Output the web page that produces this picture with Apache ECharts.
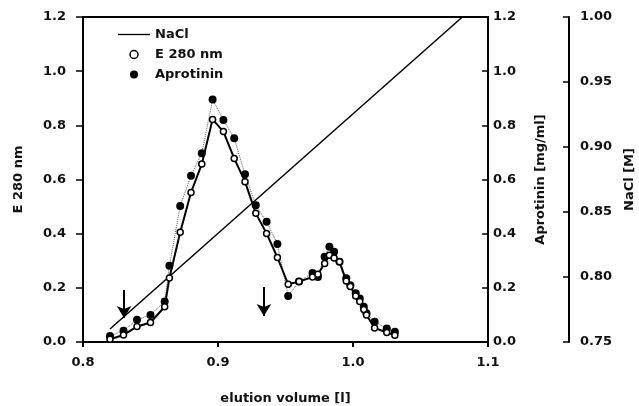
<!DOCTYPE html>
<html>
<head>
<meta charset="utf-8">
<script src="https://cdn.jsdelivr.net/npm/echarts@6/dist/echarts.min.js"></script>
<style>html,body{margin:0;padding:0;background:#fff}#c{width:639px;height:406px}</style>
</head>
<body>
<div id="c"></div>
<script>
// elution volume [l] of each fraction
const volumes = [0.820,0.830,0.840,0.850,0.8605,0.864,0.872,0.880,0.888,0.896,0.904,0.912,0.920,0.928,0.936,0.944,0.952,0.960,0.970,0.974,0.979,0.9825,0.986,0.990,0.995,0.998,1.002,1.005,1.008,1.010,1.016,1.025,1.031];
// E 280 nm (open circles)
const e280 = [0.010,0.026,0.057,0.072,0.130,0.236,0.405,0.552,0.657,0.822,0.777,0.678,0.592,0.475,0.401,0.312,0.213,0.223,0.240,0.250,0.290,0.320,0.310,0.296,0.225,0.205,0.170,0.150,0.120,0.100,0.052,0.035,0.025];
// Aprotinin [mg/ml] (filled circles)
const aprotinin = [0.022,0.042,0.082,0.100,0.150,0.282,0.502,0.614,0.697,0.895,0.820,0.752,0.619,0.505,0.444,0.362,0.170,0.223,0.255,0.240,0.315,0.352,0.333,0.296,0.235,0.210,0.180,0.161,0.130,0.106,0.075,0.050,0.038];
// NaCl gradient [M]
const naclVolumes = [0.820, 1.081];
const naclValues = [0.760, 1.000];
// arrows (volume, top value, tip value) in E 280 units
const arrowVolumes = [0.8304, 0.934];
const arrowTop = [0.192, 0.203];
const arrowTip = [0.089, 0.096];

const xTicks = ['0.8','0.9','1.0','1.1'];

const FONT = 'DejaVu Sans';
const txt = {fontFamily: FONT, fontSize: 13, fontWeight: 'bold', color: '#111'};

const chart = echarts.init(document.getElementById('c'), null, {renderer: 'canvas'});

const zip = (a, b) => a.map((v, i) => [v, b[i]]);

chart.setOption({
  animation: false,
  backgroundColor: '#fff',
  grid: {left: 83, right: 151, top: 17, bottom: 64, outerBoundsMode: 'none', containLabel: false,
    show: true, borderColor: '#000', borderWidth: 2, backgroundColor: 'transparent'},
  legend: {
    orient: 'vertical', left: 113, top: 23, itemGap: 7, itemWidth: 32, itemHeight: 8,
    textStyle: txt,
    data: [
      {name: 'NaCl', icon: 'path://M0,0H36V1.5H0Z', itemStyle: {color: '#000', borderWidth: 0}},
      {name: 'E 280 nm', icon: 'circle', itemStyle: {color: '#fff', borderColor: '#000', borderWidth: 1.5}},
      {name: 'Aprotinin', icon: 'circle', itemStyle: {color: '#000', borderColor: '#000', borderWidth: 0}}
    ]
  },
  xAxis: {
    type: 'value', min: 0.8, max: 1.1, interval: 0.1,
    name: 'elution volume [l]', nameLocation: 'middle', nameGap: 50, nameTextStyle: txt,
    axisLine: {lineStyle: {color: '#000', width: 2}},
    axisTick: {show: true, length: 5, lineStyle: {color: '#000', width: 2}},
    axisLabel: Object.assign({}, txt, {margin: 14, formatter: (v) => xTicks[Math.round((v - 0.8) / 0.1)]}),
    splitLine: {show: false}
  },
  yAxis: [
    {
      type: 'value', position: 'left', min: 0, max: 1.2, interval: 0.2,
      name: 'E 280 nm', nameLocation: 'middle', nameGap: 58, nameTextStyle: txt,
      axisLine: {show: true, lineStyle: {color: '#000', width: 2}},
      axisTick: {show: true, length: 7, lineStyle: {color: '#000', width: 1.5}},
      axisLabel: Object.assign({}, txt, {margin: 17, formatter: (v) => v.toFixed(1)}),
      splitLine: {show: false}
    },
    {
      type: 'value', position: 'right', min: 0, max: 1.2, interval: 0.2,
      name: 'Aprotinin [mg/ml]', nameLocation: 'middle', nameGap: 46, nameTextStyle: txt,
      axisLine: {show: true, lineStyle: {color: '#000', width: 2}},
      axisTick: {show: true, inside: true, length: 6, lineStyle: {color: '#000', width: 1.5}},
      axisLabel: Object.assign({}, txt, {margin: 5, formatter: (v) => v.toFixed(1)}),
      splitLine: {show: false}
    },
    {
      type: 'value', position: 'right', offset: 81, min: 0.75, max: 1.0, interval: 0.05,
      name: 'NaCl [M]', nameLocation: 'middle', nameGap: 54, nameTextStyle: txt,
      axisLine: {show: true, lineStyle: {color: '#000', width: 2}},
      axisTick: {show: true, inside: true, length: 6, lineStyle: {color: '#000', width: 1.5}},
      axisLabel: Object.assign({}, txt, {margin: 11, formatter: (v) => v.toFixed(2)}),
      splitLine: {show: false}
    }
  ],
  series: [
    {
      name: 'NaCl', type: 'line', yAxisIndex: 2, symbol: 'none',
      data: zip(naclVolumes, naclValues),
      lineStyle: {color: '#000', width: 1.5}, itemStyle: {color: '#000'}, z: 2
    },
    {
      name: 'Aprotinin', type: 'line', yAxisIndex: 1, symbol: 'circle', symbolSize: 8,
      data: zip(volumes, aprotinin),
      lineStyle: {color: '#555', width: 1, type: 'dotted'},
      itemStyle: {color: '#000', borderWidth: 0}, z: 3
    },
    {
      name: 'E 280 nm', type: 'line', yAxisIndex: 0, symbol: 'circle', symbolSize: 6,
      data: zip(volumes, e280),
      lineStyle: {color: '#000', width: 2},
      itemStyle: {color: '#fff', borderColor: '#000', borderWidth: 1.5}, z: 4,
      markLine: {
        silent: true, symbol: ['none', 'arrow'], symbolSize: [11, 12],
        label: {show: false},
        lineStyle: {color: '#000', width: 2, type: 'solid'},
        data: arrowVolumes.map((v, i) => [{coord: [v, arrowTop[i]]}, {coord: [v, arrowTip[i]]}])
      }
    }
  ]
});
</script>
</body>
</html>
